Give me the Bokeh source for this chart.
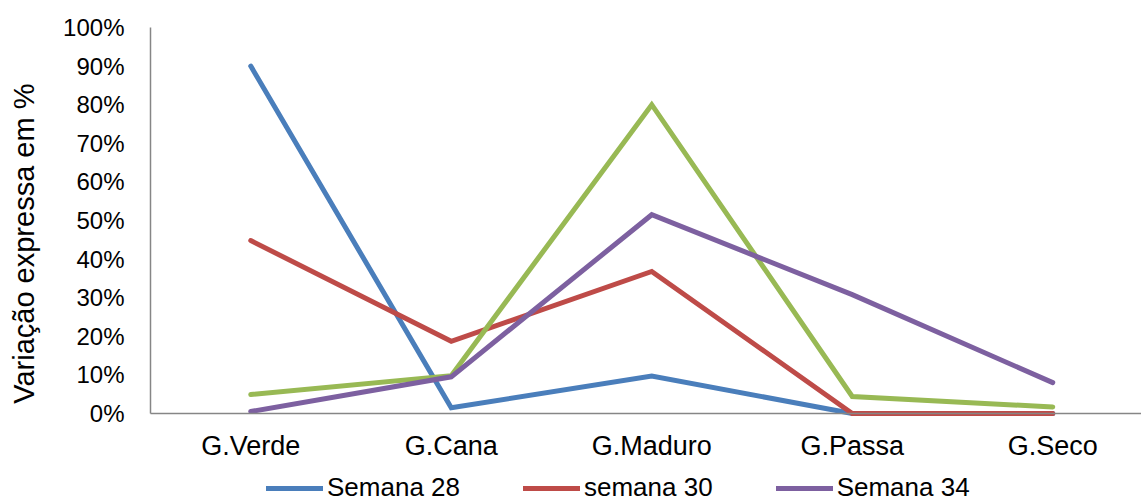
from math import pi
from bokeh.plotting import figure
from bokeh.models import Range1d, FixedTicker, NumeralTickFormatter, Legend, LegendItem, Label
from bokeh.embed import file_html
from bokeh.resources import INLINE

categories = ["G.Verde", "G.Cana", "G.Maduro", "G.Passa", "G.Seco"]
semana28 = [0.90, 0.015, 0.097, 0.0, 0.0]
semana30 = [0.448, 0.187, 0.368, 0.0, 0.0]
semana32 = [0.049, 0.098, 0.80, 0.044, 0.017]
semana34 = [0.005, 0.095, 0.515, 0.308, 0.080]
y_ticks = [0.0, 0.1, 0.2, 0.3, 0.4, 0.5, 0.6, 0.7, 0.8, 0.9, 1.0]
y_title = "Variação expressa em %"

FONT = "Liberation Sans"
xs = [i + 0.5 for i in range(len(categories))]

W, H = 1141, 503
PX_X, PX_Y = 200.5, 386.0       # pixels per unit
LEFT, BOTTOM = 150, 90          # plot-area offsets in pixels
x_end = (W - LEFT) / PX_X
y_top = (H - BOTTOM) / PX_Y

p = figure(width=W, height=H, output_backend="svg", toolbar_location=None,
           x_range=Range1d(-LEFT / PX_X, x_end), y_range=Range1d(-BOTTOM / PX_Y, y_top),
           min_border=0, x_axis_location="below", y_axis_location="left")
p.outline_line_color = None
p.grid.visible = False
p.background_fill_color = "white"
p.border_fill_color = "white"

series = [
    (semana28, "#4A7EBB", "Semana 28"),
    (semana30, "#BE4B48", "semana 30"),
    (semana32, "#98B954", None),
    (semana34, "#7D60A0", "Semana 34"),
]
items = []
for vals, col, name in series:
    r = p.line(xs, vals, line_color=col, line_width=5, line_cap="round", line_join="miter")
    if name:
        items.append(LegendItem(label=name, renderers=[r]))

for ax in (p.xaxis[0], p.yaxis[0]):
    ax.axis_line_color = "#868686"
    ax.axis_line_width = 1.5
    ax.major_tick_in = 0
    ax.major_tick_out = 0
    ax.minor_tick_in = 0
    ax.minor_tick_out = 0
    ax.major_label_text_font = FONT
    ax.major_label_text_color = "black"
    ax.fixed_location = 0

p.xaxis.bounds = (0, x_end)
p.xaxis.ticker = FixedTicker(ticks=xs)
p.xaxis.major_label_overrides = {x: c for x, c in zip(xs, categories)}
p.xaxis.major_label_standoff = 17
p.xaxis.major_label_text_font_size = "27px"
p.yaxis.bounds = (0, 1)
p.yaxis.ticker = FixedTicker(ticks=y_ticks)
p.yaxis.formatter = NumeralTickFormatter(format="0%")
p.yaxis.major_label_standoff = 26
p.yaxis.major_label_text_font_size = "24px"

p.add_layout(Label(x=(23 - LEFT) / PX_X, y=0.44, text=y_title, angle=pi / 2,
                   text_align="center", text_baseline="middle",
                   text_font=FONT, text_font_size="29px", text_color="black"))

legend = Legend(items=items, orientation="horizontal", location=(266, 0),
                glyph_width=57, glyph_height=30, label_standoff=4, spacing=63,
                padding=0, margin=0, border_line_color=None, background_fill_alpha=0,
                label_text_font=FONT, label_text_font_size="26px", label_text_color="black")
p.add_layout(legend, "center")

open("out.html", "w").write(file_html(p, INLINE))
